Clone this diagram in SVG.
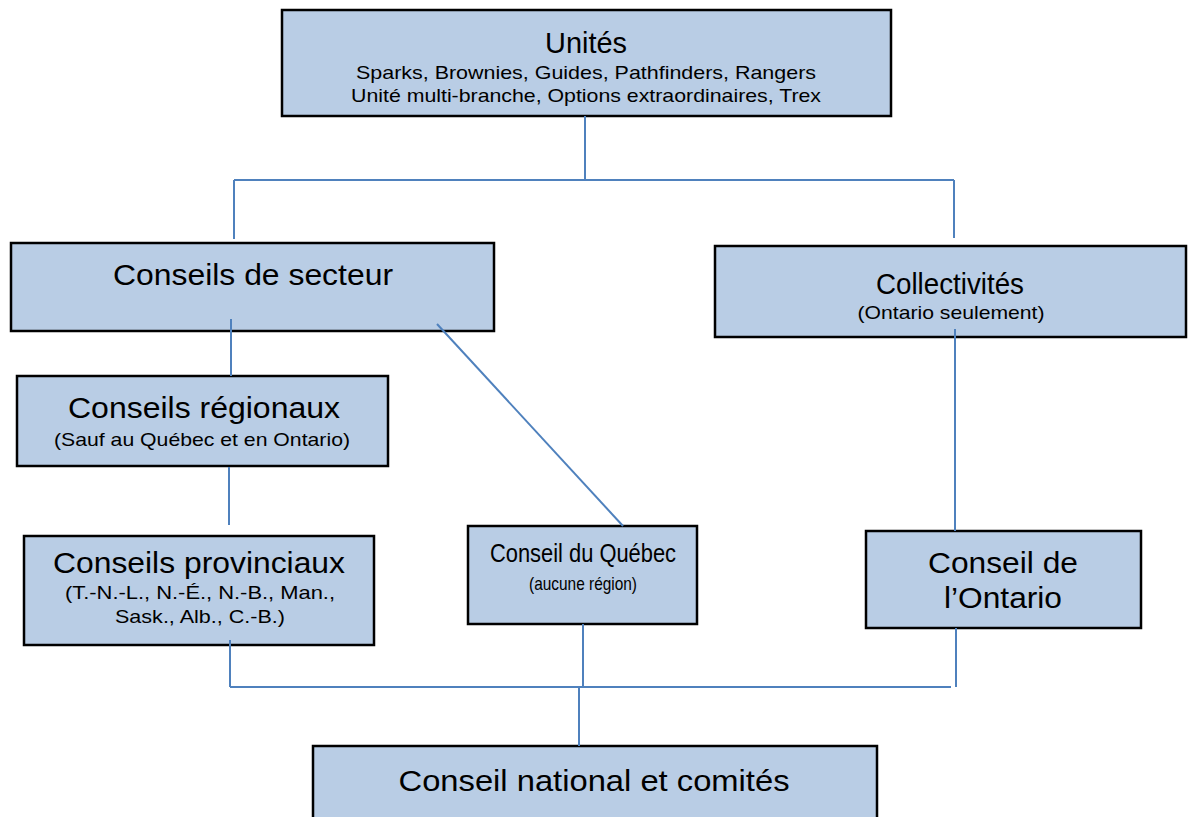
<svg xmlns="http://www.w3.org/2000/svg" width="1188" height="817" viewBox="0 0 1188 817">
<style>
.box{fill:#B9CDE5;stroke:#000;stroke-width:2.5}
.t{font-family:"Liberation Sans",Arial,sans-serif;fill:#000;text-anchor:middle}
.h{font-size:30px}
.s{font-size:18.5px}
.c{stroke:#4F81BD;stroke-width:2;fill:none}
</style>
<rect width="1188" height="817" fill="#fff"/>
<g id="n-unites">
<rect class="box" x="282" y="10" width="609" height="106"/>
<text class="t h" x="586" y="53" textLength="82" lengthAdjust="spacingAndGlyphs">Unités</text>
<text class="t s" x="586" y="79" textLength="460" lengthAdjust="spacingAndGlyphs">Sparks, Brownies, Guides, Pathfinders, Rangers</text>
<text class="t s" x="586" y="102" textLength="470" lengthAdjust="spacingAndGlyphs">Unité multi-branche, Options extraordinaires, Trex</text>
</g>
<g id="n-secteur">
<rect class="box" x="11" y="243" width="483" height="88"/>
<text class="t h" x="253" y="285" textLength="280" lengthAdjust="spacingAndGlyphs">Conseils de secteur</text>
</g>
<g id="n-collectivites">
<rect class="box" x="715" y="246" width="471" height="91"/>
<text class="t h" x="950" y="294" textLength="148" lengthAdjust="spacingAndGlyphs">Collectivités</text>
<text class="t s" x="951" y="319" textLength="187" lengthAdjust="spacingAndGlyphs">(Ontario seulement)</text>
</g>
<g id="n-regionaux">
<rect class="box" x="17" y="376" width="371" height="90"/>
<text class="t h" x="204" y="418" textLength="272" lengthAdjust="spacingAndGlyphs">Conseils régionaux</text>
<text class="t s" x="202" y="446" textLength="296" lengthAdjust="spacingAndGlyphs">(Sauf au Québec et en Ontario)</text>
</g>
<g id="n-provinciaux">
<rect class="box" x="24" y="536" width="350" height="109"/>
<text class="t h" x="199" y="573" textLength="292" lengthAdjust="spacingAndGlyphs">Conseils provinciaux</text>
<text class="t s" x="200" y="599" textLength="270" lengthAdjust="spacingAndGlyphs">(T.-N.-L., N.-É., N.-B., Man.,</text>
<text class="t s" x="200" y="623" textLength="170" lengthAdjust="spacingAndGlyphs">Sask., Alb., C.-B.)</text>
</g>
<g id="n-quebec">
<rect class="box" x="468" y="526" width="229" height="98"/>
<text class="t" style="font-size:25px" x="583" y="562" textLength="186" lengthAdjust="spacingAndGlyphs">Conseil du Québec</text>
<text class="t" style="font-size:19px" x="583" y="590" textLength="108" lengthAdjust="spacingAndGlyphs">(aucune région)</text>
</g>
<g id="n-ontario">
<rect class="box" x="866" y="531" width="275" height="97"/>
<text class="t h" x="1003" y="573" textLength="150" lengthAdjust="spacingAndGlyphs">Conseil de</text>
<text class="t h" x="1003" y="608" textLength="118" lengthAdjust="spacingAndGlyphs">l’Ontario</text>
</g>
<g id="n-national">
<rect class="box" x="313" y="746" width="564" height="80"/>
<text class="t h" x="594" y="791" textLength="391" lengthAdjust="spacingAndGlyphs">Conseil national et comités</text>
</g>
<g id="connectors">
<line class="c" x1="585" y1="116" x2="585" y2="180"/>
<line class="c" x1="234" y1="180" x2="954" y2="180"/>
<line class="c" x1="234" y1="180" x2="234" y2="239"/>
<line class="c" x1="954" y1="180" x2="954" y2="238"/>
<line class="c" x1="231" y1="319" x2="231" y2="376"/>
<line class="c" x1="437" y1="324" x2="623" y2="526"/>
<line class="c" x1="955" y1="329" x2="955" y2="531"/>
<line class="c" x1="229" y1="467" x2="229" y2="525"/>
<line class="c" x1="230" y1="640" x2="230" y2="687"/>
<line class="c" x1="583" y1="624" x2="583" y2="687"/>
<line class="c" x1="956" y1="628" x2="956" y2="687"/>
<line class="c" x1="230" y1="687" x2="951" y2="687"/>
<line class="c" x1="579" y1="687" x2="579" y2="746"/>
</g>
</svg>
